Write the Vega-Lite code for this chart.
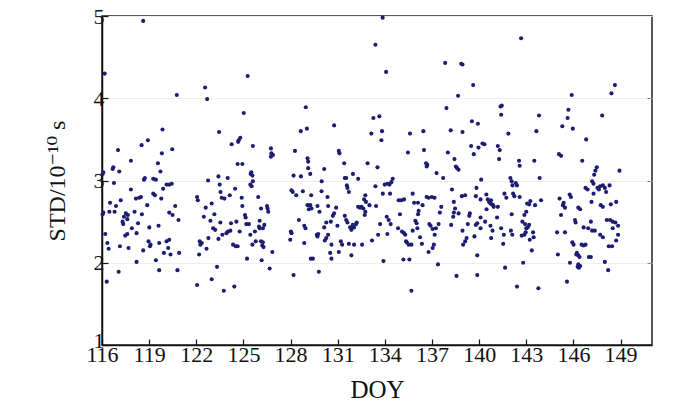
{
  "$schema": "https://vega.github.io/schema/vega-lite/v6.json",
  "width": 550,
  "height": 329,
  "autosize": {"type": "none"},
  "padding": {"left": 102, "top": 16, "right": 48, "bottom": 58},
  "background": "white",
  "config": {
    "view": {"stroke": "#222222", "strokeWidth": 1.5},
    "font": "Liberation Serif"
  },
  "data": {"values": [
{"d":118.62,"s":4.94},{"d":116.17,"s":4.30},{"d":120.76,"s":4.04},{"d":119.85,"s":3.62},{"d":118.92,"s":3.49},{"d":118.52,"s":3.43},{"d":117.02,"s":3.37},{"d":120.47,"s":3.38},{"d":119.81,"s":3.33},{"d":117.84,"s":3.24},{"d":119.56,"s":3.21},{"d":119.72,"s":3.11},{"d":116.68,"s":3.14},{"d":116.72,"s":3.16},{"d":116.08,"s":3.10},{"d":116.04,"s":3.08},{"d":117.10,"s":3.11},{"d":118.73,"s":3.03},{"d":118.67,"s":3.01},{"d":119.26,"s":3.02},{"d":119.43,"s":3.01},{"d":119.89,"s":2.90},{"d":120.11,"s":2.95},{"d":120.28,"s":2.95},{"d":120.44,"s":2.96},{"d":116.76,"s":2.97},{"d":117.84,"s":2.89},{"d":118.48,"s":2.80},{"d":118.37,"s":2.79},{"d":119.26,"s":2.84},{"d":119.37,"s":2.82},{"d":119.77,"s":2.78},{"d":118.16,"s":2.78},{"d":117.19,"s":2.76},{"d":116.51,"s":2.73},{"d":116.08,"s":2.61},{"d":116.04,"s":2.59},{"d":116.47,"s":2.62},{"d":116.80,"s":2.62},{"d":116.89,"s":2.69},{"d":117.52,"s":2.60},{"d":117.65,"s":2.58},{"d":117.40,"s":2.56},{"d":117.31,"s":2.50},{"d":117.61,"s":2.53},{"d":117.35,"s":2.47},{"d":118.07,"s":2.62},{"d":118.54,"s":2.59},{"d":118.88,"s":2.70},{"d":120.28,"s":2.61},{"d":120.49,"s":2.58},{"d":120.66,"s":2.69},{"d":120.87,"s":2.52},{"d":118.29,"s":2.48},{"d":117.90,"s":2.42},{"d":119.01,"s":2.43},{"d":119.60,"s":2.45},{"d":116.21,"s":2.35},{"d":118.20,"s":2.36},{"d":117.48,"s":2.33},{"d":117.61,"s":2.35},{"d":116.34,"s":2.24},{"d":116.42,"s":2.17},{"d":117.14,"s":2.20},{"d":117.69,"s":2.18},{"d":118.96,"s":2.26},{"d":119.09,"s":2.22},{"d":119.05,"s":2.20},{"d":118.62,"s":2.15},{"d":119.64,"s":2.24},{"d":120.11,"s":2.26},{"d":120.28,"s":2.28},{"d":119.94,"s":2.12},{"d":120.21,"s":2.18},{"d":120.36,"s":2.10},{"d":120.91,"s":2.12},{"d":119.43,"s":2.03},{"d":118.20,"s":2.01},{"d":120.80,"s":1.91},{"d":119.64,"s":1.91},{"d":117.06,"s":1.89},{"d":116.30,"s":1.77},
{"d":122.56,"s":4.13},{"d":122.69,"s":3.99},{"d":123.45,"s":3.59},{"d":124.25,"s":3.44},{"d":124.66,"s":3.47},{"d":122.75,"s":3.00},{"d":123.41,"s":3.05},{"d":124.00,"s":3.03},{"d":123.49,"s":2.95},{"d":123.54,"s":2.86},{"d":123.62,"s":2.79},{"d":123.79,"s":2.78},{"d":124.13,"s":2.82},{"d":124.47,"s":2.90},{"d":122.05,"s":2.80},{"d":122.10,"s":2.76},{"d":122.60,"s":2.67},{"d":122.98,"s":2.72},{"d":123.15,"s":2.59},{"d":122.48,"s":2.56},{"d":122.90,"s":2.51},{"d":123.53,"s":2.49},{"d":123.07,"s":2.42},{"d":123.20,"s":2.40},{"d":123.92,"s":2.36},{"d":124.02,"s":2.38},{"d":124.17,"s":2.39},{"d":124.21,"s":2.48},{"d":124.55,"s":2.50},{"d":123.41,"s":2.29},{"d":123.66,"s":2.34},{"d":122.22,"s":2.26},{"d":122.35,"s":2.24},{"d":122.26,"s":2.22},{"d":122.77,"s":2.30},{"d":122.65,"s":2.17},{"d":122.18,"s":2.10},{"d":124.34,"s":2.22},{"d":124.51,"s":2.20},{"d":123.32,"s":1.95},{"d":122.05,"s":1.73},{"d":122.98,"s":1.80},{"d":123.75,"s":1.66},{"d":124.42,"s":1.71},
{"d":125.27,"s":4.27},{"d":125.02,"s":3.82},{"d":124.70,"s":3.49},{"d":124.80,"s":3.52},{"d":124.63,"s":3.20},{"d":124.93,"s":3.20},{"d":125.60,"s":3.42},{"d":126.75,"s":3.39},{"d":126.78,"s":3.33},{"d":126.75,"s":3.29},{"d":126.88,"s":3.31},{"d":125.50,"s":3.10},{"d":125.46,"s":3.08},{"d":125.57,"s":3.06},{"d":125.44,"s":2.95},{"d":125.52,"s":2.93},{"d":125.60,"s":2.99},{"d":124.89,"s":2.79},{"d":125.94,"s":2.80},{"d":124.93,"s":2.69},{"d":126.12,"s":2.66},{"d":126.50,"s":2.69},{"d":126.54,"s":2.66},{"d":126.58,"s":2.62},{"d":125.10,"s":2.58},{"d":125.14,"s":2.55},{"d":126.03,"s":2.51},{"d":125.18,"s":2.47},{"d":125.35,"s":2.47},{"d":126.33,"s":2.46},{"d":126.24,"s":2.42},{"d":124.76,"s":2.38},{"d":125.44,"s":2.34},{"d":125.73,"s":2.38},{"d":125.99,"s":2.44},{"d":126.03,"s":2.42},{"d":125.78,"s":2.26},{"d":126.12,"s":2.26},{"d":126.20,"s":2.21},{"d":126.28,"s":2.19},{"d":126.24,"s":2.25},{"d":125.57,"s":2.22},{"d":124.63,"s":2.20},{"d":125.23,"s":2.05},{"d":126.16,"s":2.03},{"d":126.84,"s":2.13},{"d":126.67,"s":1.93},
{"d":128.19,"s":1.85},{"d":128.97,"s":3.89},{"d":129.04,"s":3.63},{"d":128.65,"s":3.60},{"d":128.28,"s":3.36},{"d":129.08,"s":3.27},{"d":129.12,"s":3.23},{"d":129.12,"s":3.15},{"d":128.19,"s":3.06},{"d":128.66,"s":3.05},{"d":129.25,"s":3.08},{"d":128.06,"s":2.88},{"d":128.14,"s":2.86},{"d":128.36,"s":2.82},{"d":128.78,"s":2.87},{"d":129.31,"s":2.82},{"d":129.98,"s":2.99},{"d":130.14,"s":3.14},{"d":129.97,"s":2.87},{"d":130.35,"s":2.80},{"d":130.77,"s":3.67},{"d":131.07,"s":3.36},{"d":131.11,"s":3.33},{"d":131.41,"s":3.21},{"d":131.45,"s":3.03},{"d":131.54,"s":3.03},{"d":131.58,"s":2.94},{"d":131.62,"s":2.91},{"d":131.71,"s":2.86},{"d":131.97,"s":3.08},{"d":132.30,"s":3.02},{"d":132.90,"s":3.21},{"d":133.14,"s":3.57},{"d":133.27,"s":3.76},
{"d":132.76,"s":2.82},{"d":132.30,"s":2.68},{"d":132.42,"s":2.67},{"d":132.51,"s":2.68},{"d":132.63,"s":2.66},{"d":132.76,"s":2.62},{"d":132.72,"s":2.58},{"d":133.02,"s":2.70},{"d":129.08,"s":2.70},{"d":129.25,"s":2.70},{"d":129.16,"s":2.65},{"d":128.53,"s":2.52},{"d":128.87,"s":2.45},{"d":128.95,"s":2.42},{"d":129.71,"s":2.69},{"d":129.84,"s":2.62},{"d":129.33,"s":2.66},{"d":130.39,"s":2.69},{"d":130.69,"s":2.57},{"d":130.77,"s":2.60},{"d":130.90,"s":2.67},{"d":130.27,"s":2.49},{"d":130.14,"s":2.43},{"d":130.56,"s":2.50},{"d":130.98,"s":2.45},{"d":131.45,"s":2.57},{"d":131.54,"s":2.52},{"d":131.62,"s":2.49},{"d":131.79,"s":2.43},{"d":131.87,"s":2.40},{"d":132.04,"s":2.43},{"d":132.17,"s":2.47},{"d":132.21,"s":2.49},{"d":131.96,"s":2.46},{"d":128.02,"s":2.38},{"d":128.06,"s":2.36},{"d":127.98,"s":2.28},{"d":128.87,"s":2.24},{"d":129.67,"s":2.34},{"d":129.76,"s":2.35},{"d":129.71,"s":2.32},{"d":130.39,"s":2.34},{"d":130.27,"s":2.30},{"d":130.18,"s":2.27},{"d":130.60,"s":2.22},{"d":130.52,"s":2.12},{"d":130.60,"s":2.05},{"d":129.29,"s":2.05},{"d":129.42,"s":2.05},{"d":129.80,"s":1.89},{"d":131.07,"s":2.13},{"d":131.20,"s":2.26},{"d":131.28,"s":2.22},{"d":131.71,"s":2.23},{"d":132.04,"s":2.22},{"d":132.55,"s":2.22},{"d":131.87,"s":2.09},{"d":133.18,"s":2.27},{"d":132.68,"s":2.77},{"d":132.80,"s":2.74},
{"d":133.86,"s":4.98},{"d":133.40,"s":4.65},{"d":134.08,"s":4.32},{"d":133.65,"s":3.78},{"d":133.82,"s":3.60},{"d":133.78,"s":3.49},{"d":133.53,"s":3.16},{"d":133.99,"s":2.95},{"d":134.16,"s":2.96},{"d":134.29,"s":2.95},{"d":134.41,"s":2.98},{"d":134.50,"s":3.02},{"d":133.87,"s":2.84},{"d":134.33,"s":2.84},{"d":133.40,"s":2.93},{"d":133.44,"s":2.69},{"d":134.12,"s":2.56},{"d":134.24,"s":2.52},{"d":134.37,"s":2.47},{"d":133.70,"s":2.47},{"d":133.57,"s":2.34},{"d":134.16,"s":2.35},{"d":133.91,"s":2.02},{"d":134.88,"s":2.76},{"d":135.05,"s":2.76},{"d":135.22,"s":2.77},{"d":134.96,"s":2.59},{"d":134.84,"s":2.42},{"d":135.09,"s":2.38},{"d":135.22,"s":2.36},{"d":135.30,"s":2.34},{"d":135.39,"s":2.25},{"d":135.51,"s":2.22},{"d":135.35,"s":2.26},{"d":135.69,"s":2.22},{"d":135.18,"s":2.04},{"d":135.56,"s":2.04},{"d":135.69,"s":1.66},{"d":135.60,"s":3.57},{"d":135.47,"s":3.34},{"d":135.77,"s":2.84},{"d":135.86,"s":2.73},{"d":136.15,"s":2.63},{"d":136.11,"s":2.59},{"d":135.94,"s":2.51},{"d":136.02,"s":2.48},{"d":136.07,"s":2.42},{"d":135.77,"s":2.39},{"d":136.24,"s":2.31},{"d":136.36,"s":2.23},{"d":136.45,"s":3.60},{"d":136.49,"s":3.37},{"d":136.62,"s":3.21},{"d":136.70,"s":3.19},{"d":136.66,"s":3.17},{"d":136.66,"s":2.80},{"d":136.78,"s":2.79},{"d":136.99,"s":2.80},{"d":137.16,"s":2.79},{"d":136.40,"s":2.70},{"d":136.11,"s":2.73},{"d":136.83,"s":2.47},{"d":136.91,"s":2.45},{"d":137.04,"s":2.41},{"d":137.17,"s":2.34},{"d":137.25,"s":2.42},{"d":137.12,"s":2.22},{"d":137.04,"s":2.18},{"d":136.78,"s":2.13},{"d":137.38,"s":1.98},{"d":137.29,"s":3.09},{"d":137.50,"s":2.61},{"d":137.59,"s":2.68},{"d":137.42,"s":2.47},{"d":137.71,"s":3.03},{"d":137.84,"s":4.43},{"d":137.92,"s":3.88},{"d":138.01,"s":3.34},{"d":138.19,"s":3.61},{"d":138.27,"s":2.89},{"d":138.39,"s":2.74},{"d":138.43,"s":3.26},{"d":138.52,"s":3.17},{"d":138.60,"s":3.15},{"d":138.69,"s":3.13},{"d":138.66,"s":4.03},{"d":138.86,"s":4.42},{"d":138.94,"s":4.41},{"d":138.94,"s":3.59},{"d":138.90,"s":2.81},{"d":139.11,"s":2.82},{"d":138.47,"s":2.66},{"d":138.39,"s":2.61},{"d":138.35,"s":2.56},{"d":138.69,"s":2.60},{"d":138.22,"s":2.46},{"d":138.94,"s":2.39},{"d":139.41,"s":2.60},{"d":139.37,"s":2.57},{"d":139.28,"s":2.47},{"d":138.98,"s":2.22},{"d":139.11,"s":2.26},{"d":139.20,"s":2.30},{"d":138.56,"s":1.84},{"d":139.62,"s":4.16},{"d":139.54,"s":3.72},{"d":139.92,"s":3.69},{"d":139.49,"s":3.42},{"d":139.66,"s":3.32},{"d":139.96,"s":3.40},{"d":140.21,"s":3.45},{"d":140.34,"s":3.44},{"d":140.13,"s":3.01},{"d":139.83,"s":2.91},{"d":139.79,"s":2.81},{"d":140.09,"s":2.77},{"d":139.79,"s":2.46},{"d":139.88,"s":2.48},{"d":140.09,"s":2.55},{"d":139.70,"s":2.32},{"d":139.88,"s":2.09},{"d":139.88,"s":1.85},{"d":140.46,"s":2.83},{"d":140.55,"s":2.77},{"d":140.63,"s":2.74},{"d":140.72,"s":2.72},{"d":140.80,"s":2.71},{"d":140.89,"s":2.70},{"d":140.93,"s":2.68},{"d":140.68,"s":2.74},{"d":140.76,"s":2.76},{"d":140.47,"s":2.65},{"d":140.38,"s":2.50},{"d":140.09,"s":2.42},{"d":140.72,"s":2.45},{"d":140.85,"s":2.39},{"d":140.76,"s":2.30},{"d":141.14,"s":2.55},{"d":141.40,"s":2.42},{"d":141.57,"s":2.34},{"d":141.53,"s":2.23},{"d":141.19,"s":2.68},{"d":141.19,"s":3.42},{"d":141.31,"s":3.37},{"d":141.27,"s":3.26},{"d":141.40,"s":3.80},{"d":141.36,"s":3.90},{"d":141.44,"s":3.91},{"d":141.65,"s":1.94},{"d":141.61,"s":2.84},{"d":141.73,"s":2.79},{"d":141.86,"s":3.57},{"d":141.99,"s":3.03},{"d":142.07,"s":2.99},{"d":142.12,"s":2.94},{"d":142.16,"s":2.84},{"d":142.24,"s":2.81},{"d":142.02,"s":2.39},{"d":142.11,"s":2.34},{"d":142.07,"s":2.59},
{"d":142.67,"s":4.73},{"d":143.81,"s":3.79},{"d":143.64,"s":3.60},{"d":143.51,"s":3.24},{"d":142.54,"s":3.24},{"d":142.58,"s":3.18},{"d":143.85,"s":3.03},{"d":142.33,"s":2.97},{"d":142.41,"s":2.94},{"d":142.58,"s":2.80},{"d":143.05,"s":2.72},{"d":143.18,"s":2.71},{"d":143.26,"s":2.75},{"d":143.56,"s":2.70},{"d":143.94,"s":2.76},{"d":143.00,"s":2.62},{"d":142.88,"s":2.58},{"d":142.75,"s":2.50},{"d":142.92,"s":2.47},{"d":143.00,"s":2.42},{"d":143.09,"s":2.43},{"d":143.18,"s":2.46},{"d":142.96,"s":2.37},{"d":142.88,"s":2.34},{"d":142.71,"s":2.33},{"d":143.43,"s":2.37},{"d":143.47,"s":2.31},{"d":143.22,"s":2.28},{"d":143.35,"s":2.15},{"d":142.80,"s":2.00},{"d":142.41,"s":1.71},{"d":143.77,"s":1.69},
{"d":145.89,"s":4.04},{"d":145.68,"s":3.86},{"d":145.63,"s":3.76},{"d":145.96,"s":3.63},{"d":145.29,"s":3.66},{"d":145.08,"s":3.32},{"d":145.21,"s":3.30},{"d":146.56,"s":3.24},{"d":146.81,"s":3.50},{"d":147.83,"s":3.79},{"d":148.42,"s":4.06},{"d":148.64,"s":4.16},{"d":147.40,"s":3.12},{"d":147.49,"s":3.16},{"d":147.32,"s":3.07},{"d":148.93,"s":3.12},{"d":147.19,"s":2.99},{"d":147.28,"s":2.96},{"d":146.77,"s":2.91},{"d":146.90,"s":2.89},{"d":147.53,"s":2.91},{"d":147.62,"s":2.89},{"d":147.70,"s":2.93},{"d":147.87,"s":2.94},{"d":148.00,"s":2.91},{"d":148.30,"s":2.94},{"d":148.08,"s":2.86},{"d":147.28,"s":2.84},{"d":145.76,"s":2.83},{"d":145.84,"s":2.80},{"d":145.12,"s":2.78},{"d":145.38,"s":2.73},{"d":145.46,"s":2.67},{"d":145.33,"s":2.70},{"d":146.31,"s":2.67},{"d":146.43,"s":2.65},{"d":147.15,"s":2.74},{"d":147.74,"s":2.70},{"d":147.87,"s":2.68},{"d":148.38,"s":2.71},{"d":148.72,"s":2.74},{"d":145.21,"s":2.58},{"d":146.10,"s":2.52},{"d":146.14,"s":2.49},{"d":146.65,"s":2.43},{"d":146.94,"s":2.42},{"d":147.11,"s":2.50},{"d":147.19,"s":2.39},{"d":147.36,"s":2.39},{"d":147.70,"s":2.34},{"d":147.87,"s":2.31},{"d":148.12,"s":2.52},{"d":148.33,"s":2.52},{"d":148.50,"s":2.50},{"d":148.67,"s":2.49},{"d":148.84,"s":2.45},{"d":148.50,"s":2.42},{"d":148.84,"s":2.34},{"d":148.72,"s":2.27},{"d":148.25,"s":2.20},{"d":148.46,"s":2.20},{"d":144.96,"s":2.37},{"d":145.46,"s":2.37},{"d":145.93,"s":2.25},{"d":146.01,"s":2.22},{"d":146.52,"s":2.22},{"d":146.65,"s":2.21},{"d":146.77,"s":2.22},{"d":146.22,"s":2.12},{"d":146.31,"s":2.09},{"d":146.39,"s":2.07},{"d":146.43,"s":1.96},{"d":146.27,"s":1.95},{"d":146.35,"s":1.94},{"d":146.18,"s":2.10},{"d":146.31,"s":1.98},{"d":146.98,"s":2.07},{"d":147.11,"s":2.07},{"d":145.78,"s":2.00},{"d":145.01,"s":2.10},{"d":148.00,"s":2.01},{"d":148.21,"s":1.91},{"d":145.59,"s":1.77}
  ]},
  "layer": [
    {
      "mark": {"type": "circle", "size": 17, "color": "#1c1c70", "opacity": 1},
      "encoding": {
        "x": {
          "field": "d", "type": "quantitative",
          "scale": {"domain": [116, 151], "nice": false, "zero": false},
          "axis": {
            "title": "DOY", "values": [116,119,122,125,128,131,134,137,140,143,146,149],
            "labelFont": "Liberation Serif", "labelFontSize": 22, "labelColor": "#111111",
            "labelFlush": false, "labelOverlap": false, "labelPadding": 5,
            "tickSize": -6, "tickColor": "#111111", "tickWidth": 1.2,
            "domainColor": "#111111", "domainWidth": 1.5, "grid": false,
            "titleFont": "Liberation Serif", "titleFontSize": 25, "titleFontWeight": "normal",
            "titleColor": "#111111", "titlePadding": 12
          }
        },
        "y": {
          "field": "s", "type": "quantitative",
          "scale": {"domain": [1, 5], "nice": false, "zero": false},
          "axis": {
            "title": "STD/10⁻¹⁰ s", "values": [1,2,3,4,5],
            "labelFont": "Liberation Serif", "labelFontSize": 22, "labelColor": "#111111",
            "labelPadding": 4, "labelOverlap": false, "labelBaseline": "middle",
            "labelOffset": {"condition": {"test": "datum.value == 1", "value": -5}, "value": 0},
            "tickSize": -6, "tickColor": "#111111", "tickWidth": 1.2,
            "domainColor": "#111111", "domainWidth": 1.5,
            "grid": true, "gridColor": "#eeeeee", "gridWidth": 1,
            "titleFont": "Liberation Serif, DejaVu Serif", "titleFontSize": 24, "titleFontWeight": "normal",
            "titleColor": "#111111", "titlePadding": 24
          }
        }
      }
    },
    {
      "mark": {"type": "circle", "opacity": 0},
      "encoding": {
        "x": {"field": "d", "type": "quantitative"},
        "y": {
          "field": "s", "type": "quantitative",
          "axis": {
            "orient": "right", "title": null, "values": [2,3,4], "labels": false,
            "tickSize": -5, "tickColor": "#7f8fa0", "domain": false, "grid": false
          }
        }
      }
    }
  ],
  "resolve": {"axis": {"y": "independent"}}
}
